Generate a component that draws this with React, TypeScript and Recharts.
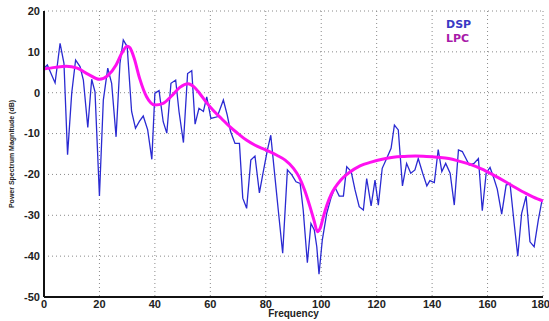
import { CartesianGrid, Line, LineChart, XAxis, YAxis } from 'recharts';

// DSP spectrum
const dspFreq = [
    0, 1.2, 4, 5.8, 7.2, 8.5, 10, 11.4, 13, 14.2, 15.8, 17.2, 18.4, 20, 21.4, 23, 24.4, 26, 27.4, 28.6,
    30, 31.6, 33, 34.4, 35.8, 37.4, 38.9, 40, 41.5, 43, 44.3, 45.8, 47.5, 48.7, 50.3, 51.8, 53.3, 54.5,
    55.9, 57.5, 58.7, 60.2, 62.5, 64.7, 66.1, 67.3, 68.9, 70.5, 71.7, 73.1, 74.6, 76.1, 77.7, 79.1,
    80.6, 81.8, 83.3, 84.5, 86.1, 87.8, 89.4, 90.9, 92.4, 93.5, 95, 96.3, 97.5, 98.4, 99.2, 100.4, 102,
    103.5, 105, 106.5, 108, 109.2, 110.8, 112.2, 113.7, 115.2, 116.4, 118, 119.4, 120.6, 122, 123.6,
    125.2, 126.4, 127.8, 129.3, 130.8, 132.3, 133.8, 135, 136.6, 138.1, 139.2, 140.8, 142.2, 143.5,
    144.9, 146.5, 148, 149.5, 150.9, 153.4, 155.1, 156.7, 158.1, 159.5, 160.9, 162.3, 163.5, 165.1,
    166.7, 168.1, 169.6, 170.9, 172.3, 173.9, 175.3, 176.8, 178.3, 179.6,
];
const dspValues = [
    6.0, 6.8, 2.4, 12.1, 7.2, -15.2, -0.1, 8.0, 6.4, 3.1, -8.5, 3.3, 0.2, -25.3, -1.8, 6.0, 2.3, -10.8, 7.2, 12.9,
    11.3, -4.6, -8.7, -7.0, -5.7, -9.1, -16.3, -0.1, 0.5, -7.1, -9.9, 2.3, 3.1, -4.6, -12.2, 4.7, 5.4, -7.7,
    -3.8, -4.6, -1.0, -6.3, -5.9, -1.8, -5.5, -9.5, -12.4, -12.4, -25.8, -28.3, -16.5, -15.5, -24.5, -19.3,
    -14.0, -10.4, -20.6, -28.7, -39.3, -18.9, -20.1, -21.8, -22.2, -28.7, -41.6, -32.0, -33.6, -37.7, -44.4, -36.0, -29.5,
    -25.8, -23.2, -25.3, -25.3, -18.1, -19.3, -23.8, -27.9, -28.7, -21.0, -27.7, -21.4, -27.5, -18.5, -16.1,
    -13.6, -7.9, -9.1, -22.8, -17.3, -19.7, -18.9, -16.1, -19.7, -22.8, -21.5, -22.0, -13.9, -19.3,
    -17.3, -19.7, -27.5, -14.0, -14.4, -17.7, -17.3, -16.1, -28.9, -19.7, -18.3, -21.0, -23.6, -29.7,
    -22.6, -22.2, -32.0, -40.0, -29.5, -25.3, -36.5, -37.7, -31.2, -26.5,
];

// LPC envelope
const lpcFreq = [
    0, 4, 8, 12, 16, 20, 23, 26, 28, 30, 31, 32.5, 34.5, 37, 40, 43, 46, 49, 52, 54, 56.3, 58.5, 61, 64,
    67, 70, 73, 76, 80, 84, 87, 90, 92, 94, 96, 97.5, 98.6, 99.6, 100.8, 102, 103.5, 105, 107, 110, 114,
    118, 122, 126, 130, 134, 138, 142, 146, 150, 154, 158, 162, 166, 170, 174, 178, 180,
];
const lpcValues = [
    5.8, 6.2, 6.5, 6.0, 4.5, 3.3, 4.2, 6.8, 9.6, 11.4, 11.0, 8.5, 3.5, -1.0, -3.0, -2.6, -0.8, 1.3, 2.2, 1.5,
    -0.3, -2.3, -4.3, -6.3, -8.3, -10.0, -11.6, -12.8, -14.0, -15.3, -16.5, -18.5, -20.6, -23.8, -28.0, -31.5,
    -34.0, -33.2, -30.3, -27.6, -25.0, -23.2, -21.4, -19.6, -17.9, -17.0, -16.3, -15.8, -15.6, -15.5, -15.6,
    -15.8, -16.1, -16.8, -17.6, -18.7, -20.1, -21.6, -23.2, -24.7, -26.0, -26.5,
];

const xTicks = [0, 20, 40, 60, 80, 100, 120, 140, 160, 180];
const yTicks = [-50, -40, -30, -20, -10, 0, 10, 20];

const dspData = dspFreq.map((f, i) => ({ f, v: dspValues[i] }));
const lpcData = lpcFreq.map((f, i) => ({ f, v: lpcValues[i] }));

const tickFont = { fontSize: 11, fontWeight: 700, fill: '#222', fontFamily: 'Liberation Sans, Arial, sans-serif' };

const App = () => (
    <div style={{ position: 'absolute', left: 0, top: 0, width: 549, height: 321, background: '#fff' }}>
        <LineChart width={549} height={321} margin={{ top: 11, right: 6, bottom: 0, left: 0 }}>
            <CartesianGrid xAxisId="b" yAxisId="l" stroke="#8a8a8a" strokeDasharray="1 3" />
            <XAxis
                xAxisId="b"
                dataKey="f"
                type="number"
                domain={[0, 180]}
                ticks={xTicks}
                allowDuplicatedCategory={false}
                height={24}
                tickLine={false}
                tickSize={3}
                tickMargin={0}
                tick={tickFont}
                axisLine={{ stroke: '#111', strokeWidth: 2 }}
                label={{
                    value: 'Frequency',
                    position: 'insideBottom',
                    offset: 4,
                    style: { fontSize: 10, fontWeight: 700, fill: '#222', fontFamily: 'Liberation Sans, Arial, sans-serif' },
                }}
            />
            <XAxis
                xAxisId="t"
                orientation="top"
                dataKey="f"
                type="number"
                domain={[0, 180]}
                ticks={xTicks}
                allowDuplicatedCategory={false}
                height={0}
                tick={false}
                tickSize={-4}
                tickLine={{ stroke: '#333' }}
                axisLine={{ stroke: '#666', strokeWidth: 1.5 }}
            />
            <YAxis
                yAxisId="l"
                type="number"
                domain={[-50, 20]}
                ticks={yTicks}
                width={44}
                tickLine={false}
                tickSize={4}
                tickMargin={0}
                tick={tickFont}
                axisLine={{ stroke: '#111', strokeWidth: 2 }}
                label={{
                    value: 'Power Spectrum Magnitude (dB)',
                    angle: -90,
                    position: 'insideLeft',
                    offset: 12,
                    style: { textAnchor: 'middle', fontSize: 7, fontWeight: 700, fill: '#222', fontFamily: 'Liberation Sans, Arial, sans-serif' },
                }}
            />
            <YAxis
                yAxisId="r"
                orientation="right"
                type="number"
                domain={[-50, 20]}
                ticks={yTicks}
                width={0}
                tick={false}
                tickSize={-4}
                tickLine={{ stroke: '#333' }}
                axisLine={{ stroke: '#666', strokeWidth: 1.5 }}
            />
            <Line
                xAxisId="b"
                yAxisId="l"
                data={dspData}
                dataKey="v"
                name="DSP"
                type="linear"
                stroke="#2a2ad2"
                strokeWidth={1.3}
                dot={false}
                isAnimationActive={false}
            />
            <Line
                xAxisId="b"
                yAxisId="l"
                data={lpcData}
                dataKey="v"
                name="LPC"
                type="monotone"
                stroke="#ff10f0"
                strokeWidth={3}
                dot={false}
                isAnimationActive={false}
            />
        </LineChart>
        <div
            style={{
                position: 'absolute',
                left: 446,
                top: 18,
                fontFamily: 'DejaVu Sans, sans-serif',
                fontWeight: 700,
                fontSize: 11,
                lineHeight: '14px',
            }}
        >
            <div style={{ color: '#3a3ac4' }}>DSP</div>
            <div style={{ color: '#a81aa8' }}>LPC</div>
        </div>
    </div>
);

export default App;
